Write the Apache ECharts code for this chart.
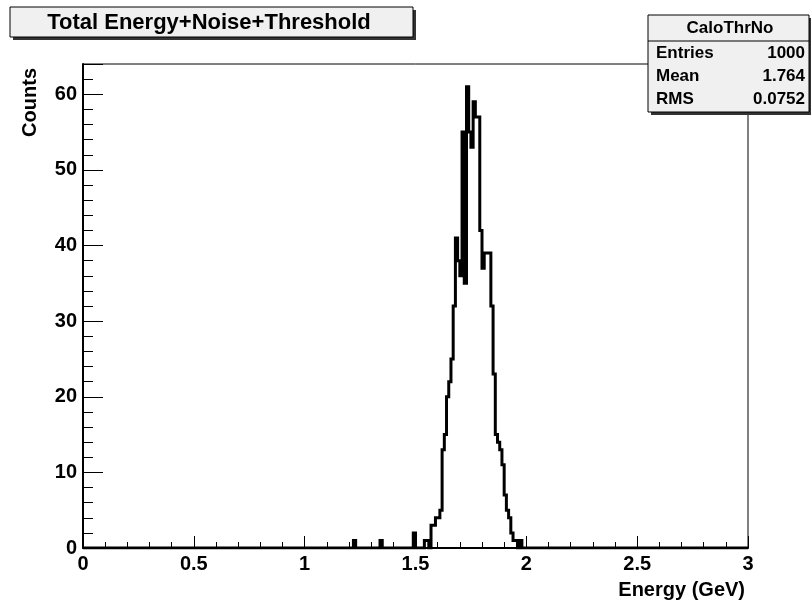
<!DOCTYPE html>
<html>
<head>
<meta charset="utf-8">
<script src="https://cdn.jsdelivr.net/npm/echarts@6/dist/echarts.min.js"></script>
<style>
  html, body { margin: 0; padding: 0; background: #fff; }
  #chart { width: 812px; height: 603px; }
</style>
</head>
<body>
<div id="chart"></div>
<script>
// histogram CaloThrNo : 300 bins of 0.01 GeV on [0,3]; only non-empty bins listed
var xMin = 0, xMax = 3, binWidth = 0.01;
var binLowEdges = [1.22, 1.34, 1.49, 1.54, 1.55, 1.57, 1.58, 1.59, 1.60, 1.61,
                   1.62, 1.63, 1.64, 1.65, 1.66, 1.67, 1.68, 1.69, 1.70, 1.71,
                   1.72, 1.73, 1.74, 1.75, 1.76, 1.77, 1.78, 1.79, 1.80, 1.81,
                   1.82, 1.83, 1.84, 1.85, 1.86, 1.87, 1.88, 1.89, 1.90, 1.91,
                   1.92, 1.93, 1.94, 1.95, 1.97];
var binCounts   = [1, 1, 2, 1, 1, 3, 3, 4, 4, 5,
                   13, 15, 20, 22, 25, 32, 41, 38, 36, 55,
                   35, 61, 55, 53, 59, 57, 57, 42, 37, 39,
                   39, 39, 32, 23, 15, 14, 13, 11, 7, 5,
                   4, 2, 1, 1, 1];
var xTickLabels = ['0', '0.5', '1', '1.5', '2', '2.5', '3'];
var yTickLabels = ['0', '10', '20', '30', '40', '50', '60'];
var statNames  = ['Entries', 'Mean', 'RMS'];
var statValues = ['1000', '1.764', '0.0752'];

var font = 'Liberation Sans, Arial, Helvetica, sans-serif';

// fill all bins, then turn them into a step outline
var nBins = Math.round((xMax - xMin) / binWidth);
var counts = [];
for (var i = 0; i < nBins; i++) counts.push(0);
for (var k = 0; k < binLowEdges.length; k++) {
  counts[Math.round((binLowEdges[k] - xMin) / binWidth)] = binCounts[k];
}
var stepData = [];
for (var i = 0; i < nBins; i++) {
  var lo = +(xMin + i * binWidth).toFixed(4);
  var hi = +(xMin + (i + 1) * binWidth).toFixed(4);
  stepData.push([lo, counts[i]]);
  stepData.push([hi, counts[i]]);
}

var chart = echarts.init(document.getElementById('chart'), null, {renderer: 'canvas'});

// stats box
var statsGraphics = [
  {type: 'rect', z: 100, shape: {x: 651, y: 18, width: 160, height: 97}, style: {fill: '#333'}},
  {type: 'rect', z: 101, shape: {x: 648, y: 15, width: 161, height: 97},
   style: {fill: '#f0f0f0', stroke: '#000', lineWidth: 1}},
  {type: 'line', z: 102, shape: {x1: 648, y1: 41, x2: 809, y2: 41}, style: {stroke: '#000', lineWidth: 1}},
  {type: 'text', z: 103, x: 730, y: 28,
   style: {text: 'CaloThrNo', font: 'bold 17px ' + font, fill: '#000', align: 'center', verticalAlign: 'middle'}}
];
for (var r = 0; r < statNames.length; r++) {
  statsGraphics.push({type: 'text', z: 103, x: 656, y: 53 + r * 23,
    style: {text: statNames[r], font: 'bold 17px ' + font, fill: '#000', align: 'left', verticalAlign: 'middle'}});
  statsGraphics.push({type: 'text', z: 103, x: 805, y: 53 + r * 23,
    style: {text: statValues[r], font: 'bold 17px ' + font, fill: '#000', align: 'right', verticalAlign: 'middle'}});
}

var option = {
  backgroundColor: '#fff',
  animation: false,
  grid: {left: 83, top: 64, right: 64, bottom: 55, show: true,
         borderColor: '#000', borderWidth: 1, backgroundColor: 'transparent'},
  xAxis: {
    type: 'value', min: xMin, max: xMax, interval: 0.5,
    axisLine: {show: true, lineStyle: {color: '#000', width: 2}},
    axisTick: {show: true, inside: true, length: 12, lineStyle: {color: '#000', width: 1}},
    minorTick: {show: true, splitNumber: 5, length: 6, lineStyle: {color: '#000', width: 1}},
    splitLine: {show: false},
    axisLabel: {
      margin: 6, color: '#000', fontFamily: font, fontWeight: 'bold', fontSize: 20,
      formatter: function (v) { return xTickLabels[Math.round(v / 0.5)]; }
    }
  },
  yAxis: {
    type: 'value', min: 0, max: 64, interval: 10,
    axisLine: {show: true, lineStyle: {color: '#000', width: 2}},
    axisTick: {show: true, inside: true, length: 20, lineStyle: {color: '#000', width: 1}},
    minorTick: {show: true, splitNumber: 5, length: 10, lineStyle: {color: '#000', width: 1}},
    splitLine: {show: false},
    axisLabel: {
      margin: 6, color: '#000', fontFamily: font, fontWeight: 'bold', fontSize: 20,
      formatter: function (v) { return v % 10 === 0 ? yTickLabels[v / 10] : ''; }
    }
  },
  series: [{
    name: 'CaloThrNo',
    type: 'line',
    data: stepData,
    showSymbol: false,
    clip: true,
    lineStyle: {color: '#000', width: 3, join: 'miter'},
    z: 5
  }],
  graphic: [
    // title box
    {type: 'rect', z: 100, shape: {x: 13, y: 10, width: 403, height: 30}, style: {fill: '#333'}},
    {type: 'rect', z: 101, shape: {x: 10, y: 7, width: 403, height: 30},
     style: {fill: '#f0f0f0', stroke: '#000', lineWidth: 1}},
    {type: 'text', z: 102, x: 209, y: 23,
     style: {text: 'Total Energy+Noise+Threshold', font: 'bold 22px ' + font, fill: '#000',
             align: 'center', verticalAlign: 'middle'}},
    // axis titles
    {type: 'text', z: 50, x: 30, y: 68, rotation: Math.PI / 2,
     style: {text: 'Counts', font: 'bold 20px ' + font, fill: '#000', align: 'right', verticalAlign: 'middle'}},
    {type: 'text', z: 50, x: 745, y: 590,
     style: {text: 'Energy (GeV)', font: 'bold 20px ' + font, fill: '#000', align: 'right', verticalAlign: 'middle'}}
  ].concat(statsGraphics)
};

chart.setOption(option);
</script>
</body>
</html>
